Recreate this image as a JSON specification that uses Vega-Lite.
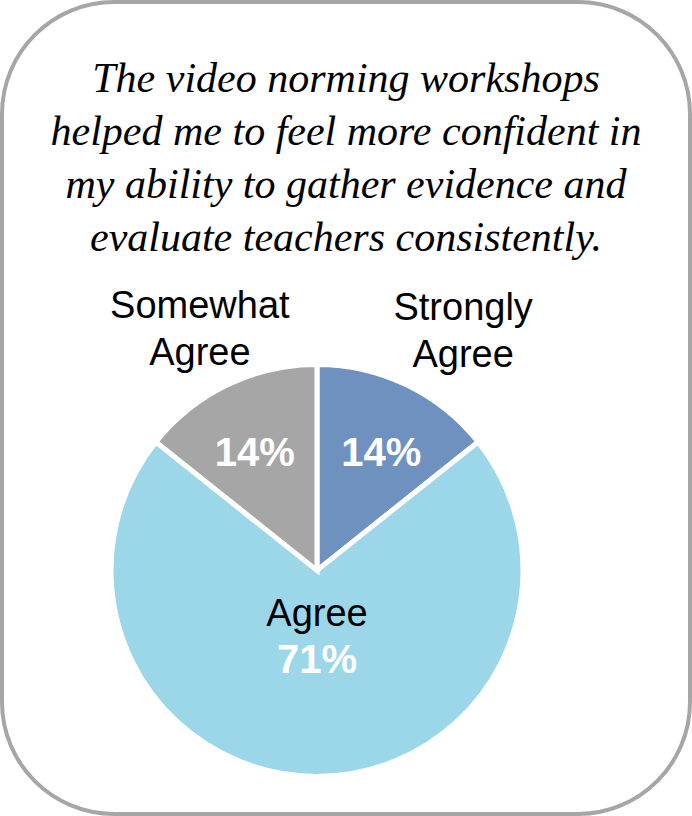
{
  "$schema": "https://vega.github.io/schema/vega-lite/v6.json",
  "width": 688,
  "height": 812,
  "padding": 2,
  "autosize": {"type": "none"},
  "background": "white",
  "view": {"stroke": "#a6a6a6", "strokeWidth": 4, "cornerRadius": 112, "fill": "white"},
  "title": {
    "text": ["The video norming workshops", "helped me to feel more confident in", "my ability to gather evidence and", "evaluate teachers consistently."],
    "font": "Liberation Serif",
    "fontStyle": "italic",
    "fontWeight": "normal",
    "fontSize": 42,
    "lineHeight": 53,
    "color": "black",
    "anchor": "middle",
    "baseline": "top",
    "offset": 0,
    "dy": 258
  },
  "data": {"values": [
    {"cat": "Strongly Agree", "label": "Strongly\nAgree", "pct": "14%", "n": 1, "rank": 1},
    {"cat": "Agree", "label": "Agree", "pct": "71%", "n": 5, "rank": 2},
    {"cat": "Somewhat Agree", "label": "Somewhat\nAgree", "pct": "14%", "n": 1, "rank": 3}
  ]},
  "encoding": {
    "theta": {"field": "n", "type": "quantitative", "stack": true},
    "order": {"field": "rank", "type": "ordinal"}
  },
  "layer": [
    {
      "mark": {"type": "arc", "radius": 206, "stroke": "white", "strokeWidth": 5, "x": {"expr": "width/2-29"}, "y": {"expr": "height*0.7"}},
      "encoding": {
        "color": {"field": "cat", "type": "nominal", "scale": {"domain": ["Strongly Agree", "Agree", "Somewhat Agree"], "range": ["#6f91bf", "#9cd7e9", "#a6a6a6"]}, "legend": null}
      }
    },
    {
      "mark": {"type": "text", "radius": 132, "dx": 7, "dy": 3, "font": "Liberation Sans", "fontWeight": "bold", "fontSize": 40, "fill": "white", "align": "center", "baseline": "middle", "x": {"expr": "width/2-29"}, "y": {"expr": "height*0.7"}},
      "encoding": {"text": {"condition": {"test": "datum.cat === 'Strongly Agree'", "field": "pct", "type": "nominal"}, "value": ""}}
    },
    {
      "mark": {"type": "text", "radius": 132, "dx": -5, "dy": 3, "font": "Liberation Sans", "fontWeight": "bold", "fontSize": 40, "fill": "white", "align": "center", "baseline": "middle", "x": {"expr": "width/2-29"}, "y": {"expr": "height*0.7"}},
      "encoding": {"text": {"condition": {"test": "datum.cat === 'Somewhat Agree'", "field": "pct", "type": "nominal"}, "value": ""}}
    },
    {
      "mark": {"type": "text", "radius": 91, "font": "Liberation Sans", "fontWeight": "bold", "fontSize": 40, "fill": "white", "align": "center", "baseline": "middle", "x": {"expr": "width/2-29"}, "y": {"expr": "height*0.7"}},
      "encoding": {"text": {"condition": {"test": "datum.cat === 'Agree'", "field": "pct", "type": "nominal"}, "value": ""}}
    },
    {
      "mark": {"type": "text", "radius": 45, "font": "Liberation Sans", "fontSize": 38, "fill": "black", "align": "center", "baseline": "middle", "x": {"expr": "width/2-29"}, "y": {"expr": "height*0.7"}},
      "encoding": {"text": {"condition": {"test": "datum.cat === 'Agree'", "field": "label", "type": "nominal"}, "value": ""}}
    },
    {
      "mark": {"type": "text", "radius": 270, "dx": 29, "dy": -18, "lineBreak": "\n", "lineHeight": 47, "font": "Liberation Sans", "fontSize": 38, "fill": "black", "align": "center", "baseline": "middle", "x": {"expr": "width/2-29"}, "y": {"expr": "height*0.7"}},
      "encoding": {"text": {"condition": {"test": "datum.cat === 'Strongly Agree'", "field": "label", "type": "nominal"}, "value": ""}}
    },
    {
      "mark": {"type": "text", "radius": 270, "dy": -20, "lineBreak": "\n", "lineHeight": 47, "font": "Liberation Sans", "fontSize": 38, "fill": "black", "align": "center", "baseline": "middle", "x": {"expr": "width/2-29"}, "y": {"expr": "height*0.7"}},
      "encoding": {"text": {"condition": {"test": "datum.cat === 'Somewhat Agree'", "field": "label", "type": "nominal"}, "value": ""}}
    }
  ]
}
